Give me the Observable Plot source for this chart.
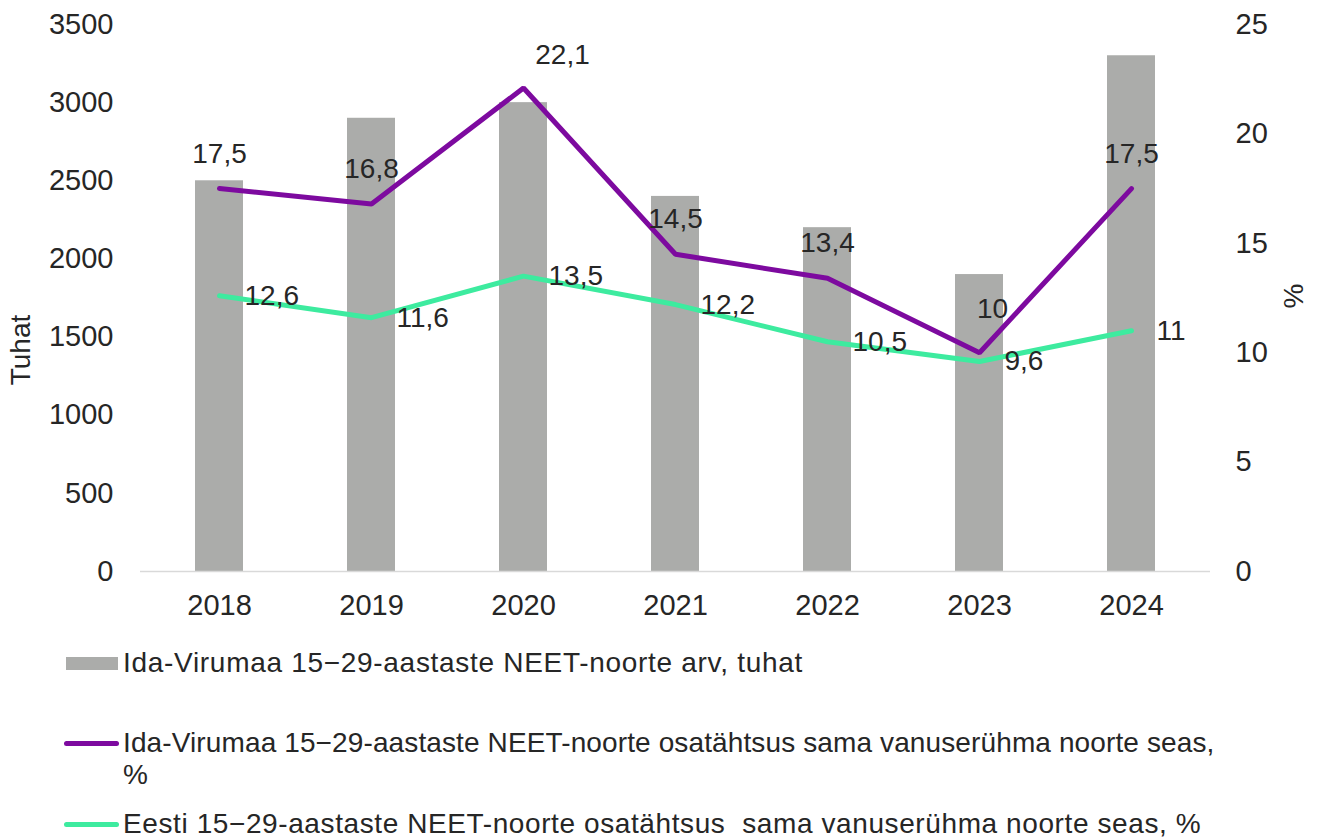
<!DOCTYPE html>
<html>
<head>
<meta charset="utf-8">
<script src="https://cdn.jsdelivr.net/npm/d3@7"></script>
<script src="https://cdn.jsdelivr.net/npm/@observablehq/plot@0.6"></script>
<style>
  html, body { margin: 0; padding: 0; background: #fff; }
  #wrap { position: relative; width: 1318px; height: 839px; font-family: "Liberation Sans", Arial, sans-serif; color: #262626; }
  #legend { position: absolute; left: 0; top: 0; width: 1318px; height: 839px; pointer-events: none; }
  .lg-text { position: absolute; left: 123px; font-size: 28px; line-height: 32px; white-space: pre; }
  .sw { position: absolute; }
</style>
</head>
<body>
<div id="wrap">
  <div id="chart"></div>
  <div id="legend"></div>
</div>
<script>
// ---- data ----
const years = ["2018", "2019", "2020", "2021", "2022", "2023", "2024"];
const neetCount = [2500, 2900, 3000, 2400, 2200, 1900, 3300];          // Ida-Virumaa NEET count, tuhat (left axis)
const idaShare = [17.5, 16.8, 22.1, 14.5, 13.4, 10, 17.5];             // Ida-Virumaa share, % (right axis)
const eestiShare = [12.6, 11.6, 13.5, 12.2, 10.5, 9.6, 11];            // Eesti share, % (right axis)
const leftTicks = [0, 500, 1000, 1500, 2000, 2500, 3000, 3500];
const rightTicks = [0, 5, 10, 15, 20, 25];
const leftTitle = "Tuhat";
const rightTitle = "%";
const legendBar = "Ida-Virumaa 15−29-aastaste NEET-noorte arv, tuhat";
const legendIda = ["Ida-Virumaa 15−29-aastaste NEET-noorte osatähtsus sama vanuserühma noorte seas,", "%"];
const legendEesti = "Eesti 15−29-aastaste NEET-noorte osatähtsus  sama vanuserühma noorte seas, %";

// ---- derived tables ----
const leftMax = 3500, rightMax = 25;
const k = leftMax / rightMax; // map right-axis % values onto left scale
const rows = years.map((y, i) => ({
  year: y,
  count: neetCount[i],
  ida: idaShare[i] * k,
  idaLabel: idaShare[i],
  eesti: eestiShare[i] * k,
  eestiLabel: eestiShare[i]
}));
const fmt = v => String(v).replace(".", ",");

const colBar = "#ABACAA";
const colIda = "#7D0A9F";
const colEesti = "#3DEB9F";
const colText = "#262626";

const chart = Plot.plot({
  width: 1318,
  height: 630,
  marginLeft: 140,
  marginRight: 108,
  marginTop: 24,
  marginBottom: 59,
  style: { fontSize: "28px", fontFamily: "'Liberation Sans', Arial, sans-serif", color: colText, background: "transparent", overflow: "visible" },
  x: { type: "band", domain: years, paddingInner: 0.686, paddingOuter: 0.343, axis: null },
  y: { domain: [0, leftMax], axis: null },
  marks: [
    Plot.barY(rows, { x: "year", y: "count", fill: colBar }),
    Plot.ruleY([0], { stroke: "#D9D9D9", strokeWidth: 1.5 }),
    Plot.line(rows, { x: "year", y: "ida", stroke: colIda, strokeWidth: 5, strokeLinecap: "round", strokeLinejoin: "miter" }),
    Plot.line(rows, { x: "year", y: "eesti", stroke: colEesti, strokeWidth: 5, strokeLinecap: "round", strokeLinejoin: "miter" }),
    // Ida-Virumaa labels (above)
    Plot.text(rows.filter(d => d.year !== "2020" && d.year !== "2023"), { x: "year", y: "ida", text: d => fmt(d.idaLabel), dy: -35, fill: colText, fontSize: 28 }),
    Plot.text(rows.filter(d => d.year === "2020"), { x: "year", y: "ida", text: d => fmt(d.idaLabel), dx: 39, dy: -33, fill: colText, fontSize: 28 }),
    Plot.text(rows.filter(d => d.year === "2023"), { x: "year", y: "ida", text: d => fmt(d.idaLabel), dx: 13, dy: -44, fill: colText, fontSize: 28 }),
    // Eesti labels (right)
    Plot.text(rows, { x: "year", y: "eesti", text: d => fmt(d.eestiLabel), dx: 25, textAnchor: "start", fill: colText, fontSize: 28 }),
    // axes
    Plot.axisY(leftTicks, { anchor: "left", tickSize: 0, tickPadding: 27, tickFormat: v => String(v), label: null, fill: colText, fontSize: 29 }),
    Plot.axisY(rightTicks.map(v => v * k), { anchor: "right", tickSize: 0, tickPadding: 25, tickFormat: v => String(Math.round(v / k)), label: null, fill: colText, fontSize: 29 }),
    Plot.axisX({ anchor: "bottom", tickSize: 0, tickPadding: 23, label: null, fill: colText, fontSize: 29 })
  ]
});
document.getElementById("chart").appendChild(chart);

// axis titles
const svg = d3.select(chart);
svg.append("text")
  .attr("transform", "translate(20,350) rotate(-90)")
  .attr("text-anchor", "middle").attr("dy", "0.35em")
  .attr("fill", colText).attr("font-size", 28)
  .text(leftTitle);
svg.append("text")
  .attr("transform", "translate(1293,296) rotate(-90)")
  .attr("text-anchor", "middle").attr("dy", "0.35em")
  .attr("fill", colText).attr("font-size", 28)
  .text(rightTitle);

// legend
const lg = document.getElementById("legend");
function addText(txt, cy, spacing) {
  const el = document.createElement("div");
  el.className = "lg-text";
  el.style.top = (cy - 16) + "px";
  el.style.letterSpacing = spacing + "px";
  el.textContent = txt;
  lg.appendChild(el);
}
function addSwatch(style) {
  const el = document.createElement("div");
  el.className = "sw";
  Object.assign(el.style, style);
  lg.appendChild(el);
}
addSwatch({ left: "66px", top: "657px", width: "52px", height: "13px", background: colBar });
addText(legendBar, 663, 0.7);
addSwatch({ left: "64px", top: "741px", width: "55px", height: "5px", background: colIda, borderRadius: "3px" });
addText(legendIda[0], 743, 0.12);
addText(legendIda[1], 775, 0);
addSwatch({ left: "64px", top: "822px", width: "55px", height: "5px", background: colEesti, borderRadius: "3px" });
addText(legendEesti, 824, 0.6);
</script>
</body>
</html>
